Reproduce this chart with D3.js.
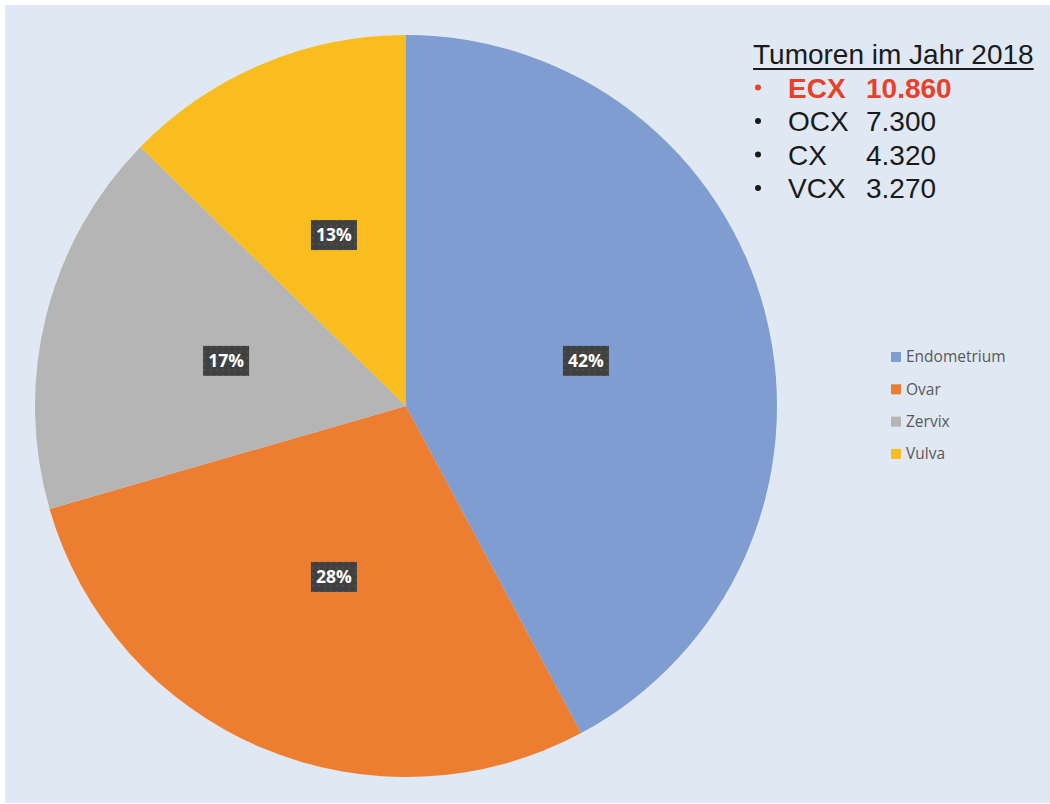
<!DOCTYPE html>
<html>
<head>
<meta charset="utf-8">
<script src="https://cdn.jsdelivr.net/npm/d3@7"></script>
<style>
  body { margin: 0; background: #ffffff; }
  svg { display: block; }
</style>
</head>
<body>
<div id="chart"></div>
<script>
// data
var categories = ["Endometrium", "Ovar", "Zervix", "Vulva"];
var values = [10860, 7300, 4320, 3270];
var colors = ["#7f9dd0", "#ed7d31", "#b5b5b5", "#f9bd1f"];
var noteTitle = "Tumoren im Jahr 2018";
var noteCodes = ["ECX", "OCX", "CX", "VCX"];
var noteValues = ["10.860", "7.300", "4.320", "3.270"];

var width = 1050, height = 804,
    cx = 406, cy = 406, radius = 371;

var svg = d3.select("#chart")
  .append("svg")
  .attr("width", width)
  .attr("height", height);

// dotted texture for the label boxes
var defs = svg.append("defs");
var pat = defs.append("pattern")
  .attr("id", "dots")
  .attr("width", 6)
  .attr("height", 6)
  .attr("patternUnits", "userSpaceOnUse");
pat.append("rect").attr("width", 6).attr("height", 6).attr("fill", "#404040");
pat.append("circle").attr("cx", 3).attr("cy", 3).attr("r", 1.2).attr("fill", "#4d4d4d");

// background panel
svg.append("rect")
  .attr("x", 5)
  .attr("y", 5)
  .attr("width", width - 5)
  .attr("height", height - 6)
  .attr("fill", "#dfe8f3");

var total = d3.sum(values);
var pie = d3.pie().sort(null).value(function(d) { return d; });
var arc = d3.arc().innerRadius(0).outerRadius(radius);
var labelArc = d3.arc().innerRadius(radius / 2).outerRadius(radius / 2);

var g = svg.append("g").attr("transform", "translate(" + cx + "," + cy + ")");

var slices = pie(values);

g.selectAll("path.slice")
  .data(slices)
  .enter()
  .append("path")
  .attr("class", "slice")
  .attr("d", arc)
  .attr("fill", function(d, i) { return colors[i]; });

// percent labels
var lab = g.selectAll("g.lab")
  .data(slices)
  .enter()
  .append("g")
  .attr("class", "lab")
  .attr("transform", function(d) {
    var c = labelArc.centroid(d);
    return "translate(" + c[0] + "," + c[1] + ")";
  });

lab.append("rect")
  .attr("x", -23)
  .attr("y", -15)
  .attr("width", 46)
  .attr("height", 30)
  .attr("fill", "url(#dots)");

lab.append("text")
  .attr("text-anchor", "middle")
  .attr("dy", "0.36em")
  .attr("fill", "#ffffff")
  .style("font-family", "'Open Sans', sans-serif")
  .style("font-weight", "bold")
  .style("font-size", "17.5px")
  .text(function(d) { return d3.format(".0%")(d.value / total); });

// legend
var legend = svg.append("g").attr("transform", "translate(891,357)");
var legItem = legend.selectAll("g")
  .data(categories)
  .enter()
  .append("g")
  .attr("transform", function(d, i) { return "translate(0," + (i * 32.3) + ")"; });

legItem.append("rect")
  .attr("x", 0)
  .attr("y", -5)
  .attr("width", 10)
  .attr("height", 10)
  .attr("fill", function(d, i) { return colors[i]; });

legItem.append("text")
  .attr("x", 15)
  .attr("dy", "0.35em")
  .attr("fill", "#595959")
  .style("font-family", "'Open Sans', sans-serif")
  .style("font-size", "15.5px")
  .text(function(d) { return d; });

// text note top right
var note = svg.append("g")
  .style("font-family", "'Liberation Sans', Arial, sans-serif")
  .style("font-size", "28px");

note.append("text")
  .attr("x", 753)
  .attr("y", 64)
  .attr("fill", "#1a1a1a")
  .text(noteTitle);

var titleW = note.select("text").node().getComputedTextLength();
note.append("line")
  .attr("x1", 753)
  .attr("x2", 753 + titleW)
  .attr("y1", 69)
  .attr("y2", 69)
  .attr("stroke", "#1a1a1a")
  .attr("stroke-width", 2);

var rows = note.selectAll("g.row")
  .data(noteCodes)
  .enter()
  .append("g")
  .attr("class", "row")
  .attr("transform", function(d, i) { return "translate(0," + (97.5 + i * 33.5) + ")"; })
  .attr("fill", function(d, i) { return i === 0 ? "#e8412a" : "#1a1a1a"; })
  .style("font-weight", function(d, i) { return i === 0 ? "bold" : "normal"; });

rows.append("circle")
  .attr("cx", 758)
  .attr("cy", -10)
  .attr("r", 3);

rows.append("text")
  .attr("x", 788)
  .text(function(d) { return d; });

rows.append("text")
  .attr("x", 866)
  .text(function(d, i) { return noteValues[i]; });
</script>
</body>
</html>
